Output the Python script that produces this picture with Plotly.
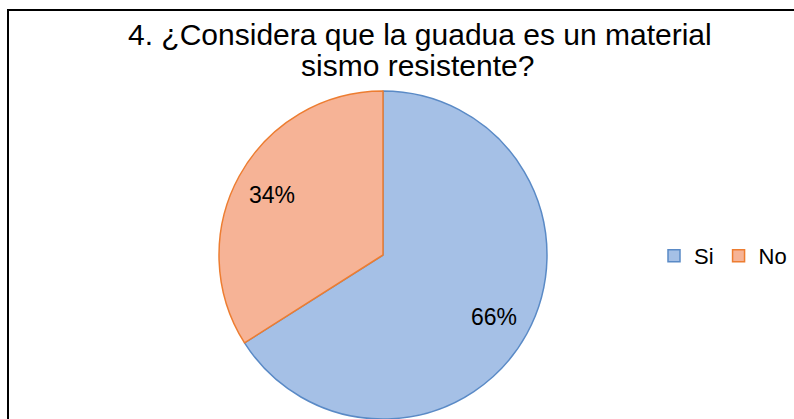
import math
import plotly.graph_objects as go

# Survey answers
labels = ["Si", "No"]
values = [66, 34]
fill_colors = ["#A5C0E6", "#F6B396"]
edge_colors = ["#5A8AC6", "#ED7D31"]

title_lines = ["4. ¿Considera que la guadua es un material", "sismo resistente?"]

W, H = 794, 419
FONT = "Liberation Sans, Arial, sans-serif"

# pie placement (pixels from top-left)
PIE_LEFT, PIE_RIGHT, PIE_TOP = 218, 548, 91
cx = (PIE_LEFT + PIE_RIGHT) / 2
radius = (PIE_RIGHT - PIE_LEFT) / 2
cy = PIE_TOP + radius

fig = go.Figure(
    go.Pie(
        labels=labels,
        values=values,
        sort=False,
        direction="clockwise",
        rotation=0,
        textinfo="none",
        marker=dict(colors=fill_colors, line=dict(color=edge_colors, width=1.5)),
        domain=dict(x=[PIE_LEFT / W, PIE_RIGHT / W], y=[0, (H - PIE_TOP) / H]),
        showlegend=True,
    )
)

# percentage labels placed along each slice's bisector
annotations = []
total = sum(values)
start = 0.0
for v in values:
    mid = (start + v / 2) / total * 2 * math.pi
    start += v
    px = cx + 0.77 * radius * math.sin(mid)
    py = cy - 0.77 * radius * math.cos(mid)
    annotations.append(
        dict(
            text=f"{round(v / total * 100)}%",
            x=px / W,
            y=1 - py / H,
            xref="paper",
            yref="paper",
            xanchor="center",
            yanchor="middle",
            showarrow=False,
            font=dict(family=FONT, size=23, color="#000000"),
        )
    )

# two-line chart title
for line, (tx, ty) in zip(title_lines, [(420, 34), (417, 65)]):
    annotations.append(
        dict(
            text=line,
            x=tx / W,
            y=1 - ty / H,
            xref="paper",
            yref="paper",
            xanchor="center",
            yanchor="middle",
            showarrow=False,
            font=dict(family=FONT, size=30, color="#000000"),
        )
    )

fig.update_layout(
    width=W,
    height=H,
    margin=dict(l=0, r=0, t=0, b=0, autoexpand=False),
    paper_bgcolor="white",
    plot_bgcolor="white",
    font=dict(family=FONT, color="#000000"),
    annotations=annotations,
    legend=dict(
        orientation="h",
        x=654 / W,
        xanchor="left",
        y=1 - 256 / H,
        yanchor="middle",
        font=dict(family=FONT, size=22, color="#000000"),
        itemwidth=30,
        traceorder="normal",
    ),
    shapes=[
        dict(
            type="rect",
            xref="paper",
            yref="paper",
            x0=8 / W,
            x1=1.02,
            y0=-0.02,
            y1=1 - 10 / H,
            line=dict(color="#000000", width=2),
            fillcolor="rgba(0,0,0,0)",
            layer="above",
        )
    ],
)

fig.write_html("out.html")
